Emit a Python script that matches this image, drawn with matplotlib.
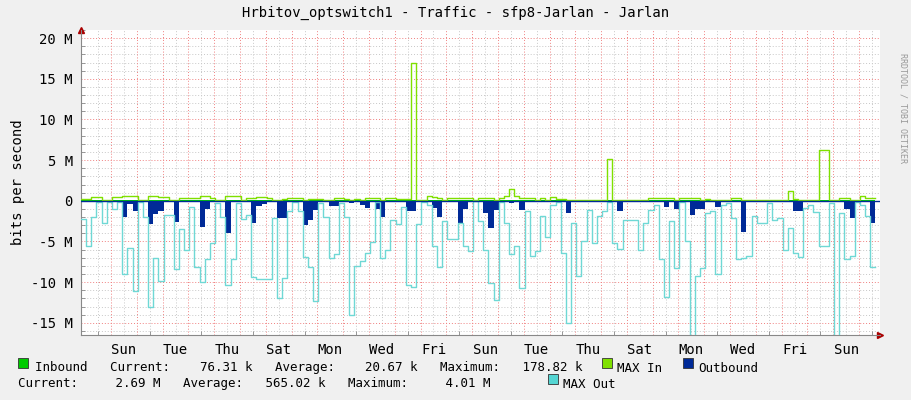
import numpy as np
import matplotlib
matplotlib.use("Agg")
import matplotlib.pyplot as plt
from matplotlib.ticker import MultipleLocator, FixedLocator

# samples every 0.2 day, values in M bits/s
step_days = 0.2
max_out = [-2.2,-5.6,-2.0,-0.2,-2.7,-0.1,-1.0,-0.2,-9.0,-5.8,-11.1,-0.2,-2.0,-13.0,-7.0,-9.8,-1.8,-1.7,-8.4,-3.5,
           -6.0,-0.8,-8.2,-10.0,-7.2,-5.2,-0.3,-2.0,-10.3,-7.2,-0.3,-2.2,-1.8,-9.4,-9.6,-9.6,-9.6,-2.1,-12.0,-9.5,
           -1.3,-0.2,-1.2,-6.9,-8.1,-12.3,-0.3,-2.0,-7.0,-6.6,-0.3,-2.0,-14.0,-8.0,-7.4,-6.4,-5.1,-0.2,-7.0,-6.0,
           -2.3,-2.8,-0.8,-10.4,-10.6,-2.8,-0.2,-0.5,-5.6,-8.1,-2.5,-4.7,-4.7,-2.7,
           -5.6,-6.2,0.0,-2.5,-6.0,-10.1,-12.2,-0.1,-2.7,-6.6,-5.6,-10.7,-1.3,-6.8,-6.2,-1.9,-4.4,-0.5,-0.1,-6.4,
           -15.0,-2.7,-9.3,-5.0,-1.1,-5.2,-1.9,-1.3,-0.1,-5.2,-5.9,-2.3,-2.3,-2.3,-6.0,-2.7,-1.1,-0.5,-7.2,-11.8,
           -2.5,-8.3,-0.1,-5.0,-17.0,-9.3,-8.3,-1.5,-1.3,-9.0,-0.5,-0.3,-2.1,-7.2,-7.0,-6.8,-1.9,-2.7,-2.7,-0.3,
           -2.3,-2.1,-6.0,-3.4,-6.4,-6.9,-0.9,-0.5,-1.4,-5.5,-5.5,-0.3,-17.0,-1.5,-7.2,-6.8,-0.1,-0.5,-1.9,-8.2]
outbound = [-0.05,-0.05,-0.05,-0.05,-0.05,-0.05,-0.05,-0.05,-2.0,-0.4,-1.2,-0.05,-0.05,-2.9,-1.6,-1.2,-0.05,-0.05,-2.6,-0.2,
            -0.05,-0.05,-0.2,-3.2,-1.0,-0.05,-0.05,-0.05,-4.0,-0.2,-0.05,-0.05,-0.05,-2.7,-0.6,-0.4,-0.05,-0.05,-2.1,-2.1,
            -0.05,-0.05,-0.05,-3.0,-2.3,-1.1,-0.05,-0.05,-0.6,-0.6,-0.05,-0.05,-0.3,-0.05,-0.5,-0.9,-0.05,-1.0,-2.0,-0.05,
            -0.05,-0.05,-0.05,-1.2,-1.2,-0.05,-0.05,-0.05,-0.9,-2.0,-0.05,-0.05,-0.05,-2.7,
            -1.0,-0.05,-0.05,-0.05,-1.5,-3.3,-1.1,-0.05,-0.05,-0.3,-0.05,-1.1,-0.05,-0.2,-0.2,-0.05,-0.05,-0.05,-0.05,-0.05,
            -1.5,-0.05,-0.05,-0.05,-0.05,-0.05,-0.05,-0.05,-0.05,-0.05,-1.2,-0.05,-0.05,-0.05,-0.05,-0.05,-0.05,-0.05,-0.05,-0.8,
            -0.05,-1.0,-0.05,-0.05,-1.8,-1.0,-1.0,-0.05,-0.05,-0.8,-0.05,-0.05,-0.05,-0.05,-3.8,-0.2,-0.05,-0.05,-0.05,-0.05,
            -0.05,-0.05,-0.05,-0.05,-1.3,-1.3,-0.05,-0.05,-0.05,-0.2,-0.2,-0.05,-0.05,-0.05,-1.0,-2.1,-0.05,-0.05,-0.05,-2.7]
max_in = [0.2,0.2,0.5,0.5,0.1,0.1,0.5,0.5,0.6,0.6,0.6,0.1,0.1,0.6,0.6,0.5,0.5,0.1,0.1,0.3,
          0.3,0.3,0.3,0.6,0.6,0.3,0.1,0.1,0.6,0.6,0.6,0.1,0.3,0.3,0.5,0.5,0.3,0.1,0.1,0.2,
          0.3,0.3,0.3,0.1,0.2,0.2,0.2,0.1,0.1,0.3,0.3,0.2,0.1,0.2,0.1,0.3,0.4,0.4,0.1,0.3,
          0.3,0.2,0.2,0.2,17.0,0.1,0.1,0.6,0.5,0.3,0.1,0.3,0.4,0.3,
          0.3,0.3,0.1,0.4,0.4,0.3,0.1,0.3,0.6,1.5,0.6,0.3,0.3,0.3,0.1,0.3,0.1,0.5,0.2,0.2,
          0.1,0.1,0.1,0.1,0.1,0.1,0.1,0.1,5.1,0.1,0.1,0.1,0.1,0.1,0.1,0.1,0.3,0.3,0.3,0.3,
          0.3,0.1,0.3,0.4,0.4,0.3,0.1,0.2,0.1,0.1,0.1,0.1,0.3,0.3,0.1,0.1,0.1,0.1,0.1,0.1,
          0.1,0.1,0.1,1.2,0.2,0.1,0.1,0.1,0.1,6.2,6.2,0.1,0.1,0.4,0.4,0.1,0.1,0.6,0.4,0.4]
inbound = [0.05] * len(max_out)

day_labels = ["Sun","Tue","Thu","Sat","Mon","Wed","Fri","Sun","Tue","Thu","Sat","Mon","Wed","Fri","Sun"]
first_midnight = 1.167
y_ticks = [-15, -10, -5, 0, 5, 10, 15, 20]
y_labels = ["-15 M","-10 M","-5 M","0","5 M","10 M","15 M","20 M"]

mono = "DejaVu Sans Mono"
fig = plt.figure(figsize=(9.11, 4.0), dpi=100, facecolor="#f0f0f0")
ax = fig.add_axes([81/911, 65/400, 799/911, 305/400])
ax.set_facecolor("white")

n = len(max_out)
edges = np.arange(n + 1) * step_days
def ext(v):
    return np.append(v, v[-1])

ax.fill_between(edges, ext(inbound), 0, step="post", color="#00cc00", lw=0, zorder=3)
ax.fill_between(edges, ext(outbound), 0, step="post", color="#002a97", lw=0, zorder=3)
ax.step(edges, ext(max_in), where="post", color="#7fe000", lw=1.0, zorder=4)
ax.step(edges, ext(max_out), where="post", color="#6fd8d5", lw=1.0, zorder=4)
ax.axhline(0, color="#002a97", lw=1, zorder=5)

xmax = 30.98
ax.set_xlim(0, xmax)
ax.set_ylim(-16.5, 21.0)

mids = first_midnight + np.arange(0, 30)
halfs = first_midnight - 0.5 + np.arange(0, 31)
for h in halfs:
    if 0 < h < xmax:
        ax.axvline(h, color="#c8c8c8", lw=0.7, ls=(0, (1, 2)), zorder=1)
for m in mids:
    if m < xmax:
        ax.axvline(m, color="#f08080", lw=0.7, ls=(0, (1, 2)), zorder=2)
for yv in np.arange(-16, 21, 1):
    if yv % 5:
        ax.axhline(yv, color="#c8c8c8", lw=0.7, ls=(0, (1, 2)), zorder=1)
    else:
        ax.axhline(yv, color="#f08080", lw=0.7, ls=(0, (1, 2)), zorder=2)

ax.set_yticks(y_ticks)
ax.set_yticklabels(y_labels, family=mono, fontsize=10)
ax.set_xticks(first_midnight + 0.5 + 2 * np.arange(len(day_labels)))
ax.set_xticklabels(day_labels, family=mono, fontsize=10)
ax.xaxis.set_minor_locator(FixedLocator(list(halfs)))
ax.yaxis.set_minor_locator(MultipleLocator(1))
ax.tick_params(axis="both", which="major", length=0, pad=6, colors="black")
ax.tick_params(axis="x", which="minor", length=3, color="#888888", direction="in")
ax.tick_params(axis="y", which="minor", length=3, color="#888888", direction="in")
for s in ["top", "right"]:
    ax.spines[s].set_visible(False)
ax.spines["left"].set_color("#888888")
ax.spines["bottom"].set_color("#888888")
ax.plot([1.0], [0], transform=ax.transAxes, marker=">", color="#aa0000", ms=5, clip_on=False)
ax.plot([0], [1.0], transform=ax.transAxes, marker="^", color="#aa0000", ms=5, clip_on=False)
ax.set_ylabel("bits per second", family=mono, fontsize=10)

fig.text(0.5, 1 - 13/400, "Hrbitov_optswitch1 - Traffic - sfp8-Jarlan - Jarlan",
         ha="center", va="center", family=mono, fontsize=10)
fig.text(903/911, 0.73, "RRDTOOL / TOBI OETIKER", rotation=270, ha="center", va="center",
         family=mono, fontsize=6, color="#999999")

def sq(x, y, c):
    fig.patches.append(plt.Rectangle((x/911, 1 - (y + 5)/400), 10/911, 10/400,
                                     transform=fig.transFigure, facecolor=c, edgecolor="#333333", lw=0.6))
sq(18, 363, "#00cc00")
sq(602, 363, "#7fe000")
sq(683, 363, "#002a97")
sq(548, 379, "#55d6d3")
fs = 9
fig.text(35/911, 1 - 368/400, "Inbound   Current:    76.31 k   Average:    20.67 k   Maximum:   178.82 k",
         va="center", family=mono, fontsize=fs)
fig.text(617/911, 1 - 368/400, "MAX In", va="center", family=mono, fontsize=fs)
fig.text(698/911, 1 - 368/400, "Outbound", va="center", family=mono, fontsize=fs)
fig.text(18/911, 1 - 384/400, "Current:     2.69 M   Average:   565.02 k   Maximum:     4.01 M",
         va="center", family=mono, fontsize=fs)
fig.text(563/911, 1 - 384/400, "MAX Out", va="center", family=mono, fontsize=fs)

fig.savefig("out.png", dpi=100, facecolor=fig.get_facecolor())
